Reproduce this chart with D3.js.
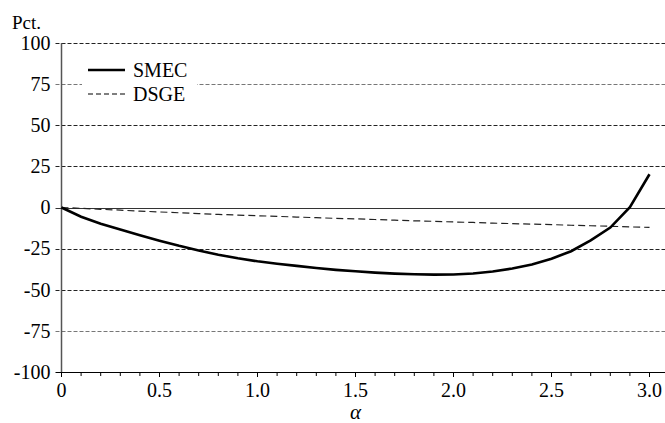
<!DOCTYPE html>
<html>
<head>
<meta charset="utf-8">
<script src="https://cdn.jsdelivr.net/npm/d3@7"></script>
</head>
<body style="margin:0">
<script>
//Data
const alpha = d3.range(0, 31).map(i => i / 10); //0.0 .. 3.0 step 0.1
const smec = [0, -5.6, -9.9, -13.4, -16.9, -20.2, -23.3, -26.1, -28.7, -30.9, -32.7,
	-34.2, -35.5, -36.8, -37.9, -38.8, -39.6, -40.2, -40.6, -40.8, -40.7,
	-40.1, -38.9, -37.1, -34.6, -31.1, -26.6, -20.0, -12.2, 0.2, 20.2];
const dsge = [0, -0.5, -1.1, -1.6, -2.2, -2.7, -3.2, -3.7, -4.2, -4.6, -5.0,
	-5.4, -5.8, -6.2, -6.6, -6.9, -7.3, -7.7, -8.1, -8.4, -8.8,
	-9.1, -9.5, -9.8, -10.1, -10.4, -10.8, -11.1, -11.4, -11.8, -12.1];
const yTicks = [100, 75, 50, 25, 0, -25, -50, -75, -100];
const xMajor = [0, 0.5, 1.0, 1.5, 2.0, 2.5, 3.0];
const xMinor = d3.range(0, 31).map(i => i / 10);
const xTickLabels = ['0', '0.5', '1.0', '1.5', '2.0', '2.5', '3.0'];
const seriesNames = ['SMEC', 'DSGE'];

const width = 665, height = 423;
const x0 = 61.5, x1 = 649.5;
const yTop = 43, yBot = 372;

const svg = d3.select('body').append('svg')
	.attr('width', width)
	.attr('height', height);

const scaleX = d3.scaleLinear().domain([0, 3]).range([x0, x1]);
const scaleY = d3.scaleLinear().domain([-100, 100]).range([yBot, yTop]);

//Gridlines (dashed), zero line solid
svg.append('g').selectAll('line')
	.data(yTicks.filter(d => d !== -100))
	.enter().append('line')
	.attr('x1', x0 - 6)
	.attr('x2', width)
	.attr('y1', d => Math.round(scaleY(d)) + 0.5)
	.attr('y2', d => Math.round(scaleY(d)) + 0.5)
	.attr('stroke', d => d === 0 ? '#333' : (d === 75 || d === -75 ? '#777' : '#222'))
	.attr('stroke-width', 1)
	.attr('stroke-dasharray', d => d === 0 ? null : '4,2');

//Y axis line
svg.append('line')
	.attr('x1', x0).attr('x2', x0)
	.attr('y1', yTop).attr('y2', yBot)
	.attr('stroke', '#555')
	.attr('stroke-width', 1.5);

//Y tick labels, through the scale
svg.append('g').selectAll('text')
	.data(yTicks)
	.enter().append('text')
	.attr('x', x0 - 11)
	.attr('y', d => scaleY(d))
	.attr('dy', '0.34em')
	.attr('text-anchor', 'end')
	.attr('font-size', 20)
	.text(d => d);

//X ticks: minor every 0.1, longer at labelled ones
svg.append('g').selectAll('line')
	.data(xMinor)
	.enter().append('line')
	.attr('x1', d => scaleX(d)).attr('x2', d => scaleX(d))
	.attr('y1', yBot).attr('y2', d => yBot + (xMajor.some(m => Math.abs(m - d) < 1e-9) ? 5 : 4))
	.attr('stroke', '#000');

svg.append('g').selectAll('text')
	.data(xMajor)
	.enter().append('text')
	.attr('x', d => scaleX(d))
	.attr('y', yBot + 25)
	.attr('text-anchor', 'middle')
	.attr('font-size', 20)
	.text((d, i) => xTickLabels[i]);

svg.append('line')
	.attr('x1', x0 - 6).attr('x2', width)
	.attr('y1', yBot + 0.5).attr('y2', yBot + 0.5)
	.attr('stroke', '#000')
	.attr('stroke-width', 1.2);

//Lines
const line = d3.line()
	.x((d, i) => scaleX(alpha[i]))
	.y(d => scaleY(d));

svg.append('path')
	.datum(dsge)
	.attr('d', line)
	.attr('fill', 'none')
	.attr('stroke', '#222')
	.attr('stroke-width', 1.2)
	.attr('stroke-dasharray', '7,4');

svg.append('path')
	.datum(smec)
	.attr('d', line)
	.attr('fill', 'none')
	.attr('stroke', '#000')
	.attr('stroke-width', 2.6);

//Legend
const legend = svg.append('g');
legend.append('rect')
	.attr('x', 82).attr('y', 60)
	.attr('width', 115).attr('height', 46)
	.attr('fill', '#fff');
const legendItems = legend.selectAll('.item')
	.data(seriesNames)
	.enter().append('g')
	.attr('class', 'item')
	.attr('transform', (d, i) => `translate(88,${70 + i * 24})`);
legendItems.append('line')
	.attr('x1', 0).attr('x2', 37)
	.attr('stroke', '#000')
	.attr('stroke-width', (d, i) => i === 0 ? 2.6 : 1.2)
	.attr('stroke-dasharray', (d, i) => i === 0 ? null : '5,3');
legendItems.append('text')
	.attr('x', 45)
	.attr('dy', '0.34em')
	.attr('font-size', 20)
	.text(d => d);

//Titles
svg.append('text')
	.attr('x', 12).attr('y', 29)
	.attr('font-size', 19)
	.text('Pct.');

svg.append('text')
	.attr('x', (x0 + x1) / 2).attr('y', 419)
	.attr('text-anchor', 'middle')
	.attr('font-size', 21)
	.attr('font-style', 'italic')
	.text('α');

//Serif face on every text
svg.selectAll('text')
	.attr('font-family', '"Liberation Serif"')
	.attr('fill', '#000');
</script>
</body>
</html>
